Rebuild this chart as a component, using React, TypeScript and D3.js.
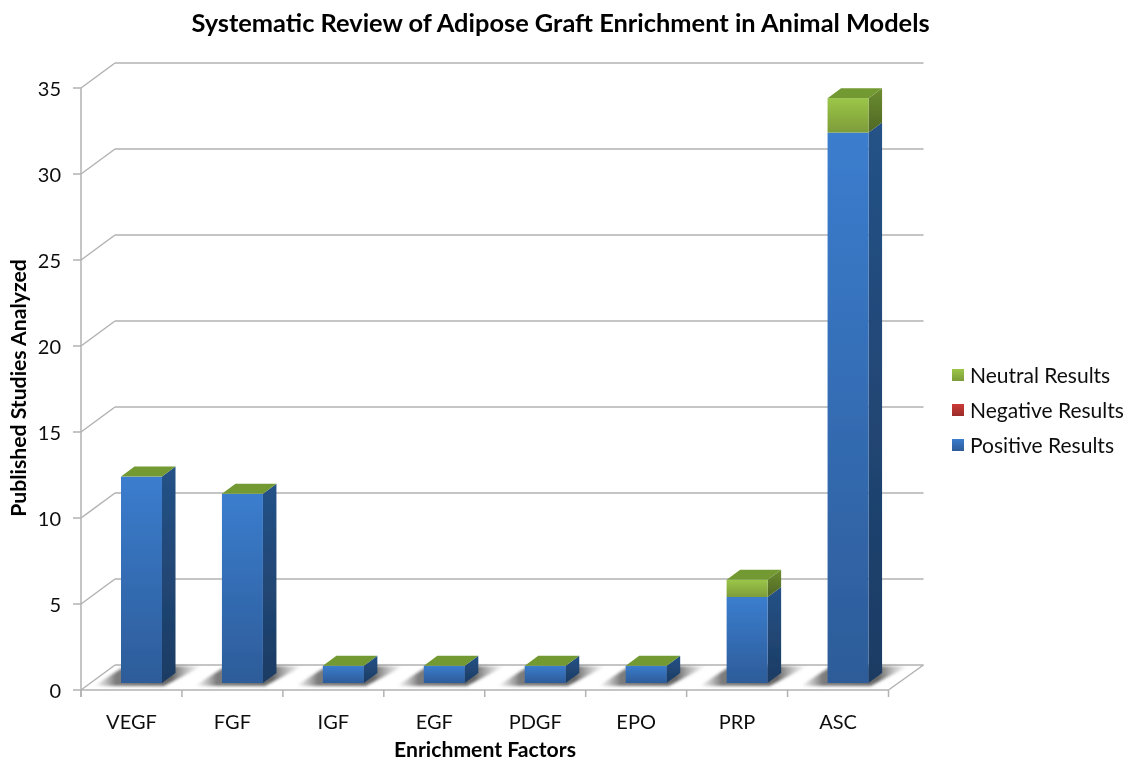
import React from "react";
import * as d3 from "d3";

const categories = ["VEGF", "FGF", "IGF", "EGF", "PDGF", "EPO", "PRP", "ASC"];
const positive = [12, 11, 1, 1, 1, 1, 5, 32];
const negative = [0, 0, 0, 0, 0, 0, 0, 0];
const neutral = [0, 0, 0, 0, 0, 0, 1, 2];
const yTicks = [0, 5, 10, 15, 20, 25, 30, 35];
const legendLabels = ["Neutral Results", "Negative Results", "Positive Results"];
const legendIds = ["green", "red", "blue"];

const FONT = "Lato, 'Open Sans', sans-serif";
const GRID = "#b2b2b2";
const y = d3.scaleLinear().domain([0, 35]).range([690, 88]);
const x = d3.scaleBand<string>().domain(categories).range([81, 888.5]).paddingInner(0).paddingOuter(0);
const WALL_DX = 34, WALL_DY = -25, WALL_RIGHT = 923.5;
const BAR_W = 41, BAR_OFFSET = 40, DX = 13.5, DY = -10, BASE_OFFSET = -7;
const path = d3.line();
const poly = (p: [number, number][]) => path(p) + "Z";

export default function App() {
  const stacks = d3.stack<number>().keys(["pos", "neg", "neu"]).value((i, k) =>
    k === "pos" ? positive[i] : k === "neg" ? negative[i] : neutral[i]
  )(categories.map((_, i) => i));
  const step = x.bandwidth();
  return (
    <svg width={1132} height={761} style={{ position: "absolute", left: 0, top: 0, background: "#fff", fontFamily: FONT }}>
      <defs>
        <linearGradient id="blueF" x1="0" y1="0" x2="0" y2="1">
          <stop offset="0" stopColor="#3b7dce" /><stop offset="1" stopColor="#2d5c99" />
        </linearGradient>
        <linearGradient id="blueS" x1="0" y1="0" x2="0" y2="1">
          <stop offset="0" stopColor="#255287" /><stop offset="1" stopColor="#1c3b63" />
        </linearGradient>
        <linearGradient id="greenF" x1="0" y1="0" x2="0" y2="1">
          <stop offset="0" stopColor="#9bc648" /><stop offset="1" stopColor="#7d9c3a" />
        </linearGradient>
        <linearGradient id="greenS" x1="0" y1="0" x2="0" y2="1">
          <stop offset="0" stopColor="#6c8d30" /><stop offset="1" stopColor="#4f6725" />
        </linearGradient>
        <linearGradient id="green" x1="0" y1="0" x2="0" y2="1">
          <stop offset="0" stopColor="#9bc648" /><stop offset="1" stopColor="#7d9c3a" />
        </linearGradient>
        <linearGradient id="red" x1="0" y1="0" x2="0" y2="1">
          <stop offset="0" stopColor="#cc3a36" /><stop offset="1" stopColor="#9a2c2a" />
        </linearGradient>
        <linearGradient id="blue" x1="0" y1="0" x2="0" y2="1">
          <stop offset="0" stopColor="#3b7dce" /><stop offset="1" stopColor="#2d5c99" />
        </linearGradient>
        <linearGradient id="shadow" x1="0" y1="0" x2="1" y2="0">
          <stop offset="0" stopColor="#888" stopOpacity="0" />
          <stop offset="0.2" stopColor="#666" stopOpacity="0.85" />
          <stop offset="0.72" stopColor="#555" stopOpacity="0.9" />
          <stop offset="1" stopColor="#999" stopOpacity="0" />
        </linearGradient>
        <filter id="sb" x="-20%" y="-40%" width="140%" height="180%"><feGaussianBlur stdDeviation="1.8" /></filter>
        <filter id="soft" x="-5%" y="-5%" width="110%" height="110%"><feGaussianBlur stdDeviation="0.35" /></filter>
      </defs>

      <g filter="url(#soft)">
        {/* walls and gridlines */}
        <g fill="none" stroke={GRID} strokeWidth={1.5}>
          <line x1={81} x2={81} y1={y(35)} y2={697} />
          <line x1={81} x2={888.5} y1={y(0)} y2={y(0)} />
          <line x1={888.5} y1={y(0)} x2={WALL_RIGHT} y2={y(0) + WALL_DY} />
          {yTicks.map((t) => (
            <g key={t}>
              <line x1={73} x2={81} y1={y(t)} y2={y(t)} />
              <line x1={81} y1={y(t)} x2={81 + WALL_DX} y2={y(t) + WALL_DY} />
              <line x1={81 + WALL_DX} x2={WALL_RIGHT} y1={y(t) + WALL_DY} y2={y(t) + WALL_DY} />
            </g>
          ))}
          {[...categories.map((c) => x(c)!), 888.5].map((v, i) => (
            <line key={i} x1={v} x2={v} y1={y(0)} y2={697} />
          ))}
        </g>

        {/* floor shadows */}
        {categories.map((c) => {
          const x0 = x(c)! + BAR_OFFSET;
          const b = y(0) + BASE_OFFSET;
          return (
            <path key={c} d={poly([[x0 - 27, b + 3], [x0 + BAR_W + 2, b + 3], [x0 + BAR_W + 40, b - 17], [x0 + 4, b - 17]])}
              fill="url(#shadow)" filter="url(#sb)" />
          );
        })}

        {/* bars */}
        {categories.map((c, i) => {
          const x0 = x(c)! + BAR_OFFSET;
          const x1 = x0 + BAR_W;
          const yb = (v: number) => y(v) + BASE_OFFSET;
          const segs = stacks.map((s, k) => ({ k, a: s[i][0], b: s[i][1] })).filter((s) => s.b > s.a);
          const total = stacks[2][i][1];
          return (
            <g key={c}>
              {segs.map((s) => {
                const pair = s.k === 2 ? ["greenS", "greenF"] : s.k === 1 ? ["red", "red"] : ["blueS", "blueF"];
                return (
                  <g key={s.k}>
                    <path d={poly([[x1, yb(s.a)], [x1 + DX, yb(s.a) + DY], [x1 + DX, yb(s.b) + DY], [x1, yb(s.b)]])} fill={`url(#${pair[0]})`} />
                    <rect x={x0} width={BAR_W} y={yb(s.b)} height={yb(s.a) - yb(s.b)} fill={`url(#${pair[1]})`} />
                  </g>
                );
              })}
              <path d={poly([[x0, yb(total)], [x1, yb(total)], [x1 + DX, yb(total) + DY], [x0 + DX, yb(total) + DY]])} fill="#739a33" />
            </g>
          );
        })}

        {/* text */}
        <text x={560.5} y={32} textAnchor="middle" fontSize={25.4} fontWeight={700} fill="#000">
          Systematic Review of Adipose Graft Enrichment in Animal Models
        </text>
        {yTicks.map((t) => (
          <text key={t} x={61} y={y(t) + 7.5} textAnchor="end" fontSize={20} fill="#111">{t}</text>
        ))}
        {categories.map((c) => (
          <text key={c} x={x(c)! + step / 2} y={729} textAnchor="middle" fontSize={20} fill="#111">{c}</text>
        ))}
        <text x={485} y={757} textAnchor="middle" fontSize={21.2} fontWeight={700} fill="#000">Enrichment Factors</text>
        <text transform="translate(26,388) rotate(-90)" textAnchor="middle" fontSize={21.2} fontWeight={700} fill="#000">
          Published Studies Analyzed
        </text>

        {/* legend */}
        {legendLabels.map((l, i) => (
          <g key={l}>
            <rect x={952} y={369 + i * 35} width={12} height={12} fill={`url(#${legendIds[i]})`} />
            <text x={970} y={382.5 + i * 35} fontSize={21} fill="#111">{l}</text>
          </g>
        ))}
      </g>
    </svg>
  );
}
